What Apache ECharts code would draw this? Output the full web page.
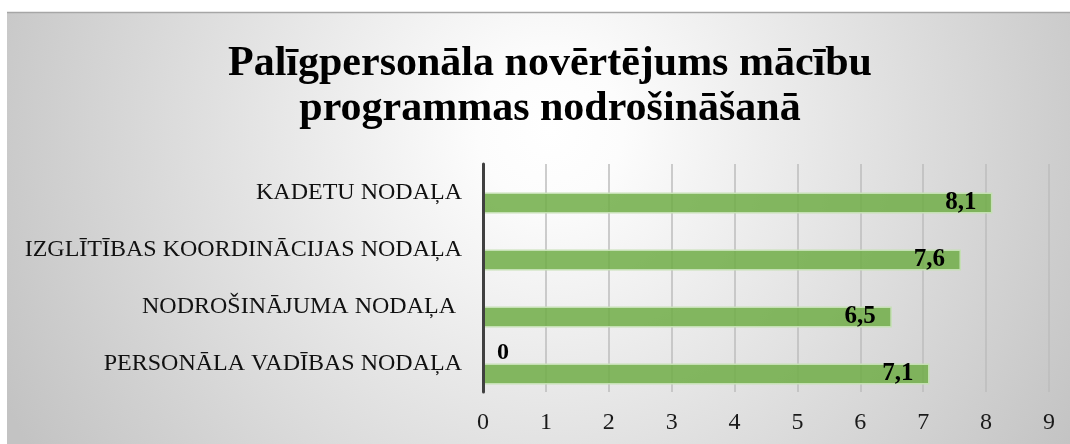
<!DOCTYPE html>
<html>
<head>
<meta charset="utf-8">
<script src="https://cdn.jsdelivr.net/npm/echarts@6.0.0/dist/echarts.min.js"></script>
<style>
    html, body { margin: 0; padding: 0; background: #fff; }
    #chart { width: 1070px; height: 444px; }
</style>
</head>
<body>
<div id="chart"></div>
<script>
// ── 数据 ──
var titleText = 'Palīgpersonāla novērtējums mācību\nprogrammas nodrošināšanā';
var categories = ['PERSONĀLA VADĪBAS NODAĻA', 'NODROŠINĀJUMA NODAĻA ', 'IZGLĪTĪBAS KOORDINĀCIJAS NODAĻA', 'KADETU NODAĻA'];
var zeroSeries = [0, null, null, null];
var scores = [7.1, 6.5, 7.6, 8.1];
var tickMin = 0, tickMax = 9, tickStep = 1;

var serif = '"Liberation Serif", "Times New Roman", serif';

var chart = echarts.init(document.getElementById('chart'));

function commaLabel(p) {
    return String(p.value).replace('.', ',');
}

chart.setOption({
    backgroundColor: '#ffffff',
    animation: false,
    graphic: [
        {
            type: 'rect',
            z: -10,
            shape: { x: 7, y: 12, width: 1063, height: 432 },
            style: {
                // 全局坐标的径向渐变
                fill: new echarts.graphic.RadialGradient(550, 130, 610, [
                    { offset: 0, color: '#ffffff' },
                    { offset: 0.12, color: '#fcfcfc' },
                    { offset: 1, color: '#c3c3c3' },
                ], true),
            },
        },
        {
            type: 'line',
            z: -9,
            shape: { x1: 7, y1: 12.5, x2: 1070, y2: 12.5 },
            style: { stroke: '#a6a6a6', lineWidth: 1.5 },
        },
    ],
    title: {
        text: titleText,
        left: 545,
        textAlign: 'center',
        top: 37,
        textStyle: {
            fontFamily: serif,
            fontWeight: 'bold',
            fontSize: 42,
            lineHeight: 45,
            color: '#000',
        },
    },
    grid: { left: 483, right: 21, top: 164, bottom: 52, containLabel: false },
    xAxis: {
        type: 'value',
        min: tickMin,
        max: tickMax,
        interval: tickStep,
        axisLine: { show: false },
        axisTick: { show: false },
        axisLabel: { fontFamily: serif, fontSize: 24, color: '#1a1a1a', margin: 19 },
        splitLine: { show: true, lineStyle: { color: '#bcbcbc', width: 1.5 } },
    },
    yAxis: {
        type: 'category',
        data: categories,
        z: 5,
        axisLine: { show: true, lineStyle: { color: '#404040', width: 3 } },
        axisTick: { show: false },
        axisLabel: { fontFamily: serif, fontSize: 24, color: '#111', margin: 21 },
    },
    series: [
        {
            type: 'bar',
            data: zeroSeries,
            barWidth: 21,
            barGap: '0%',
            itemStyle: { color: 'rgba(112,173,71,0.85)' },
            label: {
                show: true,
                position: 'right',
                distance: 14,
                formatter: commaLabel,
                fontFamily: serif,
                fontWeight: 'bold',
                fontSize: 24,
                color: '#000',
            },
        },
        {
            type: 'bar',
            data: scores,
            barWidth: 21,
            barGap: '0%',
            itemStyle: {
                color: 'rgba(112,173,71,0.85)',
                borderColor: '#c5e0b4',
                borderWidth: 1.5,
            },
            label: {
                show: true,
                position: 'insideRight',
                distance: 16,
                formatter: commaLabel,
                fontFamily: serif,
                fontWeight: 'bold',
                fontSize: 25,
                color: '#000',
            },
        },
    ],
});

window.addEventListener('resize', () => chart.resize());
</script>
</body>
</html>
